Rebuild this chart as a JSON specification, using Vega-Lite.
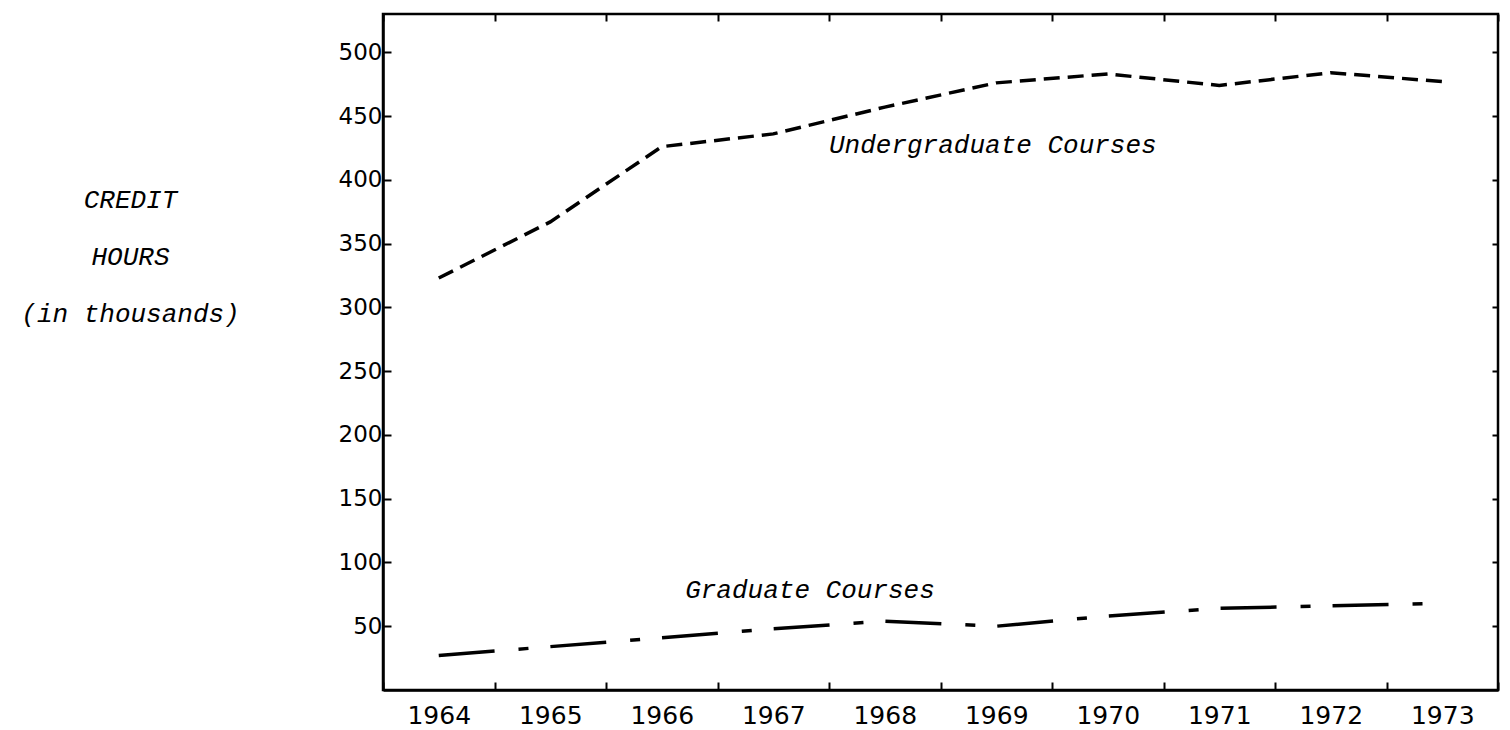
{
  "$schema": "https://vega.github.io/schema/vega-lite/v6.json",
  "autosize": {"type": "none"},
  "padding": {"left": 383, "top": 14, "right": 12, "bottom": 40},
  "width": 1115,
  "height": 676,
  "background": "white",
  "config": {
    "view": {"stroke": "black", "strokeWidth": 2.5},
    "axis": {"grid": false, "tickColor": "black", "domainColor": "black", "labelColor": "black", "titleColor": "black"}
  },
  "datasets": {
    "series": [
      {"year": 1964, "series": "Undergraduate", "hours": 323},
      {"year": 1965, "series": "Undergraduate", "hours": 367},
      {"year": 1966, "series": "Undergraduate", "hours": 426},
      {"year": 1967, "series": "Undergraduate", "hours": 436},
      {"year": 1968, "series": "Undergraduate", "hours": 457},
      {"year": 1969, "series": "Undergraduate", "hours": 476},
      {"year": 1970, "series": "Undergraduate", "hours": 483},
      {"year": 1971, "series": "Undergraduate", "hours": 474},
      {"year": 1972, "series": "Undergraduate", "hours": 484},
      {"year": 1973, "series": "Undergraduate", "hours": 477},
      {"year": 1964, "series": "Graduate", "hours": 27},
      {"year": 1965, "series": "Graduate", "hours": 34},
      {"year": 1966, "series": "Graduate", "hours": 41},
      {"year": 1967, "series": "Graduate", "hours": 48},
      {"year": 1968, "series": "Graduate", "hours": 54},
      {"year": 1969, "series": "Graduate", "hours": 50},
      {"year": 1970, "series": "Graduate", "hours": 58},
      {"year": 1971, "series": "Graduate", "hours": 64},
      {"year": 1972, "series": "Graduate", "hours": 66},
      {"year": 1973, "series": "Graduate", "hours": 68}
    ],
    "undergradNote": [{"year": 1968, "hours": 421, "label": "Undergraduate Courses"}],
    "gradNote": [{"year": 1966, "hours": 72, "label": "Graduate Courses"}]
  },
  "layer": [
    {
      "data": {"name": "series"},
      "mark": {"type": "line", "strokeWidth": 3.5, "color": "black"},
      "encoding": {
        "x": {
          "field": "year", "type": "ordinal", "bandPosition": 0.5,
          "scale": {"type": "band", "paddingInner": 0, "paddingOuter": 0},
          "axis": {"orient": "bottom", "tickBand": "extent", "tickSize": -8, "tickWidth": 2, "domainWidth": 2.5,
                   "labelAngle": 0, "labelFont": "DejaVu Sans", "labelFontSize": 25, "labelPadding": 21, "title": null}
        },
        "y": {
          "field": "hours", "type": "quantitative",
          "scale": {"domain": [0, 530], "nice": false, "zero": true},
          "axis": {"orient": "left", "values": [50, 100, 150, 200, 250, 300, 350, 400, 450, 500],
                   "tickSize": -8, "tickWidth": 2, "domainWidth": 2.5,
                   "labelFont": "DejaVu Sans", "labelFontSize": 23, "labelPadding": 9,
                   "title": ["CREDIT", "HOURS", "(in thousands)"], "titleAngle": 0, "titleAlign": "center",
                   "titleBaseline": "alphabetic", "titleX": -253, "titleY": 193,
                   "titleFont": "Liberation Mono", "titleFontStyle": "italic", "titleFontWeight": "normal",
                   "titleFontSize": 26, "titleLineHeight": 57}
        },
        "strokeDash": {
          "field": "series", "type": "nominal",
          "scale": {"domain": ["Undergraduate", "Graduate"], "range": [[16, 8], [56, 24, 10, 22]]},
          "legend": null
        }
      }
    },
    {
      "data": {"name": "undergradNote"},
      "mark": {"type": "text", "font": "Liberation Mono", "fontStyle": "italic", "fontSize": 26, "align": "left", "baseline": "alphabetic", "color": "black"},
      "encoding": {
        "x": {
          "field": "year", "type": "ordinal", "bandPosition": 0,
          "axis": {"orient": "top", "tickBand": "extent", "tickSize": -7, "tickWidth": 2, "labels": false, "domain": false, "title": null}
        },
        "y": {
          "field": "hours", "type": "quantitative",
          "axis": {"orient": "right", "values": [50, 100, 150, 200, 250, 300, 350, 400, 450, 500],
                   "tickSize": -6, "tickWidth": 2, "labels": false, "domain": false, "title": null}
        },
        "text": {"field": "label"}
      }
    },
    {
      "data": {"name": "gradNote"},
      "mark": {"type": "text", "font": "Liberation Mono", "fontStyle": "italic", "fontSize": 26, "align": "left", "baseline": "alphabetic", "color": "black"},
      "encoding": {
        "x": {"field": "year", "type": "ordinal", "bandPosition": 0.71, "axis": null},
        "y": {"field": "hours", "type": "quantitative", "axis": null},
        "text": {"field": "label"}
      }
    }
  ],
  "resolve": {"axis": {"x": "independent", "y": "independent"}}
}
